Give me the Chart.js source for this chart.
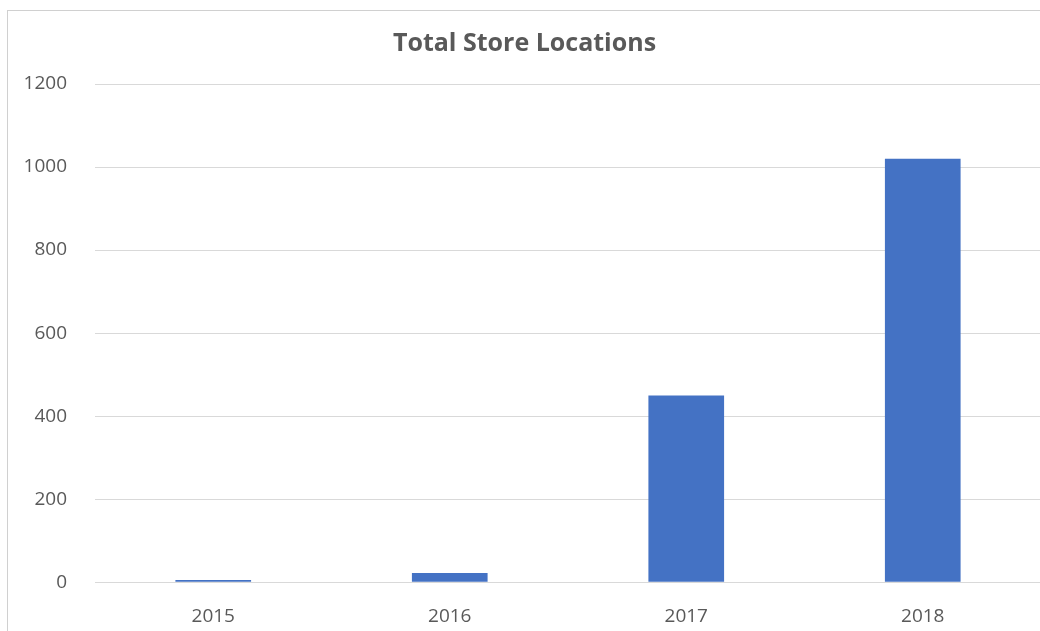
<!DOCTYPE html>
<html>
<head>
<meta charset="utf-8">
<script src="https://cdn.jsdelivr.net/npm/chart.js@4.4.0/dist/chart.umd.min.js"></script>
<style>
  html, body { margin: 0; padding: 0; background: #fff; }
  #frame {
    position: absolute; left: 7px; top: 10px; width: 1033px; height: 621px;
    border-left: 1px solid #d0d0d0; border-top: 1px solid #d0d0d0;
  }
  #wrap { position: absolute; left: 0; top: 0; width: 1033px; height: 621px; }
</style>
</head>
<body>
<div id="frame"><div id="wrap"><canvas id="myChart"></canvas></div></div>
<script>
var years = ["2015", "2016", "2017", "2018"];
var storeCounts = [5, 22, 450, 1020];
var yTicks = [0, 200, 400, 600, 800, 1000, 1200];

var ctx = document.getElementById("myChart").getContext('2d');
var myChart = new Chart(ctx, {
  type: 'bar',
  data: {
    labels: years,
    datasets: [{
      label: 'Total Store Locations',
      data: storeCounts,
      backgroundColor: "#4472C4",
      barPercentage: 0.64,
      categoryPercentage: 0.5
    }]
  },
  options: {
    responsive: true,
    maintainAspectRatio: false,
    animation: false,
    layout: { padding: { left: 0, right: 0, top: 0, bottom: -11 } },
    plugins: {
      legend: { display: false },
      tooltip: { enabled: false },
      title: {
        display: true,
        text: 'Total Store Locations',
        color: '#595959',
        font: { family: 'Open Sans', size: 25, weight: 'bold' },
        padding: { top: 18, bottom: 25 }
      }
    },
    scales: {
      x: {
        grid: { display: false },
        border: { display: false },
        ticks: {
          color: '#595959',
          padding: 15,
          font: { family: 'Open Sans', size: 19 }
        }
      },
      y: {
        min: 0,
        max: 1200,
        afterBuildTicks: function(axis) {
          axis.ticks = yTicks.map(function(v) { return { value: v }; });
        },
        afterFit: function(axis) {
          axis.width = 87;
        },
        grid: { color: '#d9d9d9', drawTicks: false },
        border: { display: false },
        ticks: {
          color: '#595959',
          padding: 28,
          font: { family: 'Open Sans', size: 19 },
          callback: function(value) { return String(value); }
        }
      }
    }
  }
});
</script>
</body>
</html>
